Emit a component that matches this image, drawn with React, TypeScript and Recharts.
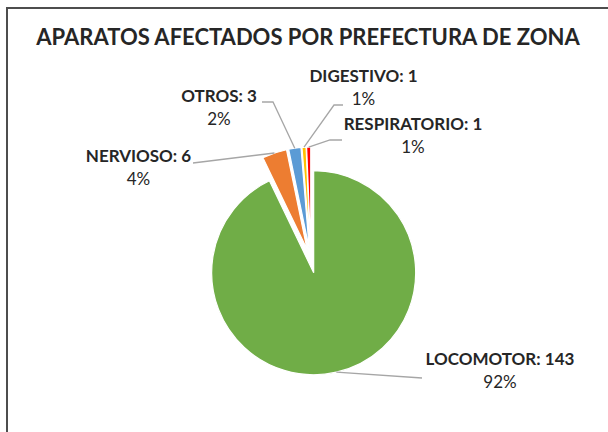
import React from 'react';
import { PieChart, Pie, Cell } from 'recharts';

const title = 'APARATOS AFECTADOS POR PREFECTURA DE ZONA';
const categories = ['LOCOMOTOR', 'NERVIOSO', 'OTROS', 'DIGESTIVO', 'RESPIRATORIO'];
const counts = [143, 6, 3, 1, 1];
const percentLabels = ['92%', '4%', '2%', '1%', '1%'];
const colors = ['#70AD47', '#ED7D31', '#5B9BD5', '#FFC000', '#FF0000'];

const data = categories.map((name, i) => ({ name, value: counts[i], pct: percentLabels[i] }));

const W = 608;
const H = 432;
const CX = 311;
const CY = 261;
const R = 102;
const EXPLODE = 12;
const FONT = 'Lato, Carlito, "Open Sans", sans-serif';
const TEXT = '#262626';
const LINE = '#a6a6a6';
const LABEL_SIZE = 17;

// manual label placement (like Excel's moved data labels): text center x, first baseline, leader path end points
const labelLayout: Record<string, { x: number; y: number; path: number[][] }> = {
  LOCOMOTOR: { x: 500, y: 365, path: [[422, 378]] },
  NERVIOSO: { x: 138.5, y: 162, path: [[193, 163]] },
  OTROS: { x: 219, y: 102, path: [[273, 102], [262, 102]] },
  DIGESTIVO: { x: 363.5, y: 82, path: [[334, 105], [343, 105]] },
  RESPIRATORIO: { x: 413, y: 130, path: [[330, 140], [342, 140]] },
};

const total = counts.reduce((a, b) => a + b, 0);
const geometry = (() => {
  let cum = 0;
  return counts.map((v) => {
    const midDeg = 90 - ((cum + v / 2) / total) * 360;
    cum += v;
    const rad = (midDeg * Math.PI) / 180;
    const cx = CX + EXPLODE * Math.cos(rad);
    const cy = CY - EXPLODE * Math.sin(rad);
    return {
      cx,
      cy,
      ox: cx + R * Math.cos(rad),
      oy: cy - R * Math.sin(rad),
    };
  });
})();

const makeLabel = (slice: number) => (props: any) => {
  if (props.index !== slice) return <g key={`l-${slice}-${props.index}`} />;
  const d = data[slice];
  const g = geometry[slice];
  const lay = labelLayout[d.name];
  const pts = [[g.ox, g.oy], ...lay.path];
  return (
    <g key={`l-${slice}`}>
      <polyline
        points={pts.map((p) => p.join(',')).join(' ')}
        fill="none"
        stroke={LINE}
        strokeWidth={1.3}
      />
      <text x={lay.x} y={lay.y} textAnchor="middle" fontFamily={FONT} fontWeight={700} fontSize={LABEL_SIZE} fill={TEXT}>
        {`${d.name}: ${d.value}`}
      </text>
      <text x={lay.x} y={lay.y + 23} textAnchor="middle" fontFamily={FONT} fontWeight={400} fontSize={LABEL_SIZE} fill={TEXT}>
        {d.pct}
      </text>
    </g>
  );
};

export default function App() {
  return (
    <div style={{ position: 'absolute', left: 0, top: 0, width: W, height: H, overflow: 'hidden', background: '#fff' }}>
      <div
        style={{
          position: 'absolute',
          left: 6,
          top: 7,
          width: 640,
          height: 480,
          border: '2px solid #4d4d4d',
          boxSizing: 'border-box',
        }}
      />
      <svg width={W} height={60} style={{ position: 'absolute', left: 0, top: 0 }}>
        <text x={308} y={45} textAnchor="middle" fontFamily={FONT} fontWeight={700} fontSize={22} fill={TEXT}>
          {title}
        </text>
      </svg>
      <div style={{ position: 'absolute', left: 0, top: 0 }}>
        <PieChart width={W} height={H} margin={{ top: 0, right: 0, bottom: 0, left: 0 }}>
          {data.map((_, s) => (
            <Pie
              key={`pie-${s}`}
              data={data}
              dataKey="value"
              nameKey="name"
              cx={geometry[s].cx}
              cy={geometry[s].cy}
              outerRadius={R}
              innerRadius={0}
              startAngle={90}
              endAngle={-270}
              isAnimationActive={false}
              labelLine={false}
              label={makeLabel(s)}
            >
              {data.map((__, i) => (
                <Cell
                  key={`c-${s}-${i}`}
                  fill={i === s ? colors[i] : 'transparent'}
                  stroke={i === s ? '#ffffff' : 'none'}
                  strokeWidth={i === s ? 1.2 : 0}
                />
              ))}
            </Pie>
          ))}
        </PieChart>
      </div>
    </div>
  );
}
